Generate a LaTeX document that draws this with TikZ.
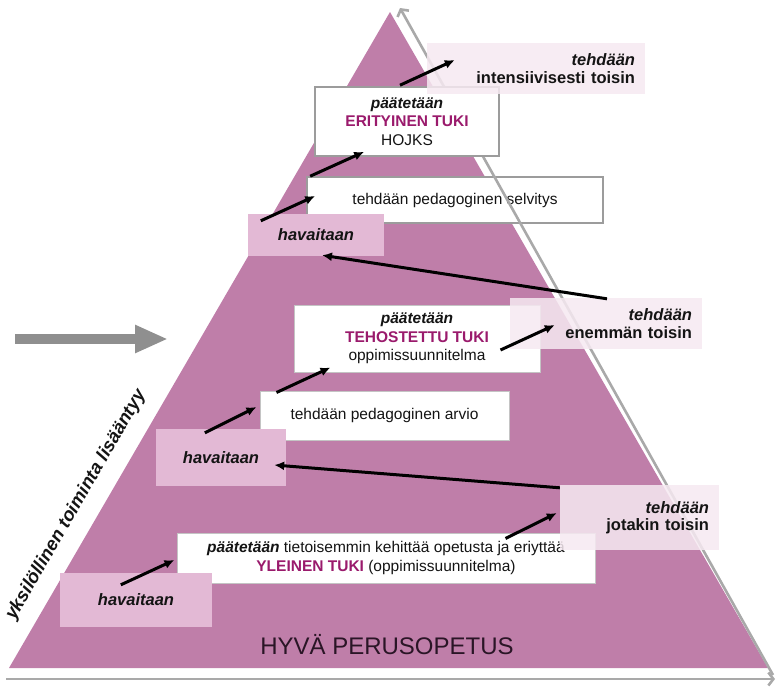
\documentclass[tikz,border=0pt]{standalone}
\usepackage{fontspec}
\setmainfont{Liberation Sans}
\usetikzlibrary{positioning, arrows.meta}

\definecolor{pyramid}{HTML}{BF7EA9}
\definecolor{havpink}{HTML}{E3B9D5}
\definecolor{tehpink}{HTML}{F6E9F1}
\definecolor{tuki}{HTML}{9A1A6C}
\definecolor{axisgray}{HTML}{A9A9A9}
\definecolor{biggray}{HTML}{8F8F8F}
\definecolor{boxgray}{HTML}{9C9C9C}
\definecolor{perustext}{HTML}{2A1526}

\begin{document}
\begin{tikzpicture}[x=1pt, y=-1pt,
    every node/.style={inner sep=0pt, text=black!92},
    white box/.style={draw=boxgray!60, line width=1pt, fill=white, align=center, font={\fontsize{15.5}{18.5}\selectfont}},
    hav box/.style={fill=havpink, font={\fontsize{16.5}{19}\selectfont\bfseries\itshape}},
    teh box/.style={fill=tehpink, fill opacity=0.85, text opacity=1, align=right, inner xsep=10pt, font={\fontsize{16.5}{17.5}\selectfont\bfseries}},
    move/.style={-{Latex[length=10pt,width=9pt]}, line width=3pt, black},
    axis/.style={-{Straight Barb[length=5pt,width=13pt]}, line width=2.6pt, axisgray}]
  \useasboundingbox (0,0) rectangle (776,686);

  % pyramid
  \coordinate (left) at (9,668);
  \coordinate (top) at (390,12);
  \coordinate (right) at (768,668);
  \fill[pyramid] (left) -- (top) -- (right) -- cycle;

  \node[white box, draw=boxgray, line width=1.6pt, minimum width=296pt, minimum height=46pt] (selvitys) at (455,200) {tehdään pedagoginen selvitys};

  % axes
  \coordinate (diagfoot) at (773,675);
  \coordinate (diagtip) at (400,8);
  \coordinate (basefoot) at (6,679);
  \coordinate (basetip) at (775,679);
  \draw[axis] (diagfoot) -- (diagtip);
  \draw[axis] (basefoot) -- (basetip);

  \coordinate (bigfoot) at (15,339);
  \coordinate (bigtip) at (168,339);
  \draw[-{Triangle[length=33pt,width=26pt]}, line width=10pt, biggray] (bigfoot) -- (bigtip);

  \node[rotate=60, font={\fontsize{18.5}{21}\selectfont\bfseries\itshape}] (growth) at (76,505) {yksilöllinen toiminta lisääntyy};

  % boxes
  \node[white box, draw=boxgray, line width=1.6pt, minimum width=184pt, minimum height=69pt] (erit) at (407,121.5)
    {{\bfseries\itshape päätetään}\\{\bfseries\color{tuki}ERITYINEN TUKI}\\HOJKS};
  \node[white box, minimum width=246pt, minimum height=67pt] (tehost) at (417,338.5)
    {{\bfseries\itshape päätetään}\\{\bfseries\color{tuki}TEHOSTETTU TUKI}\\oppimissuunnitelma};
  \node[white box, minimum width=249pt, minimum height=49pt] (arvio) at (384.5,415.5) {tehdään pedagoginen arvio};
  \node[white box, minimum width=418pt, minimum height=50pt] (yleinen) at (386,558)
    {{\bfseries\itshape päätetään} tietoisemmin kehittää opetusta ja eriyttää\\{\bfseries\color{tuki}YLEINEN TUKI} (oppimissuunnitelma)};

  \node[hav box, minimum width=136pt, minimum height=42pt] (hav1) at (316,235) {havaitaan};
  \node[hav box, minimum width=130pt, minimum height=57pt] (hav2) at (221,457.5) {havaitaan};
  \node[hav box, minimum width=152pt, minimum height=54pt] (hav3) at (136,600) {havaitaan};

  \node[teh box, text width=198pt, minimum height=51pt] (intens) at (536,68.5) {\textit{tehdään}\\intensiivisesti toisin};
  \node[teh box, text width=172pt, minimum height=51pt] (enemman) at (606,323.5) {\textit{tehdään}\\enemmän toisin};
  \node[teh box, text width=139pt, minimum height=65pt] (jotakin) at (639.5,517.5) {\textit{tehdään}\\jotakin toisin};

  \node[font={\fontsize{24}{28}\selectfont}, text=perustext] (perus) at (387,645) {HYVÄ PERUSOPETUS};

  % steps
  \path[move]
    ([shift={(61,12)}]hav3.north west) edge ([shift={(-2,2)}]yleinen.west)
    ([shift={(-90,6)}]yleinen.north east) edge ([shift={(-3,-4.5)}]jotakin.west)
    ([shift={(0,3)}]jotakin.north west) edge ([shift={(-12,7.5)}]hav2.east)
    ([shift={(49,4)}]hav2.north west) edge ([shift={(-3,-8.5)}]arvio.west)
    ([shift={(17,2)}]arvio.north west) edge ([shift={(37,-5)}]tehost.south west)
    ([shift={(-40,11.5)}]tehost.east) edge ([shift={(45,1.5)}]enemman.west)
    ([shift={(1,1)}]enemman.north) edge ([shift={(6,-1)}]hav1.south)
    ([shift={(13,7)}]hav1.north west) edge ([shift={(9,-4)}]selvitys.west)
    ([shift={(4,0)}]selvitys.north west) edge ([shift={(50,-5)}]erit.south west)
    ([shift={(-7,-1)}]erit.north) edge ([shift={(28,-8.5)}]intens.west);
\end{tikzpicture}
\end{document}
